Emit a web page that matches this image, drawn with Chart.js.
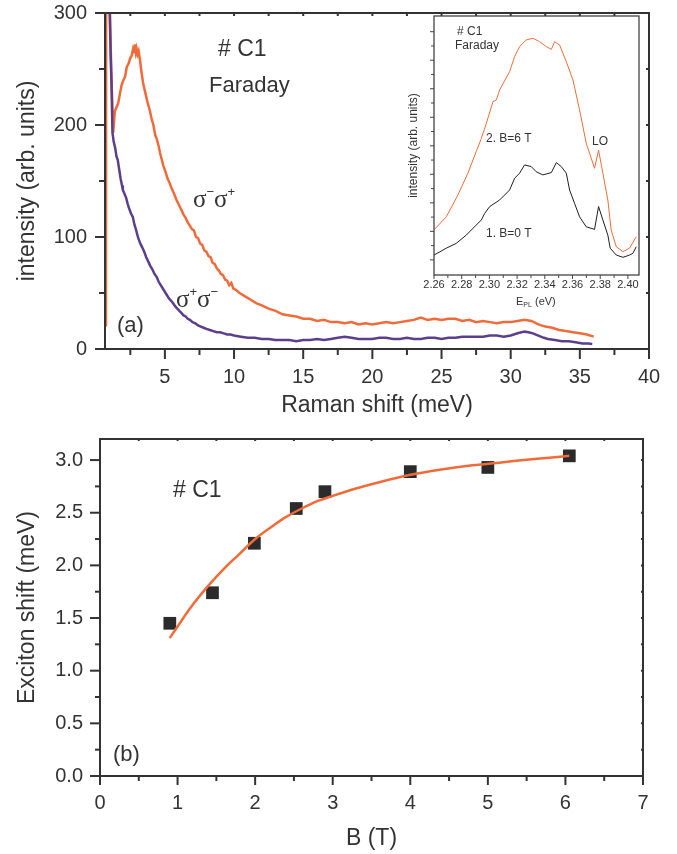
<!DOCTYPE html>
<html lang="en">
<head>
<meta charset="UTF-8">
<title>#C1 Faraday - Raman shift and exciton shift</title>
<script src="https://cdn.jsdelivr.net/npm/chart.js@4.4.1/dist/chart.umd.min.js"></script>
<style>
  body { margin: 0; background: #fff; }
  .fig { position: relative; width: 677px; height: 854px; overflow: hidden; font-family: 'Liberation Sans', Arial, sans-serif; color: #333; }
  .box { position: absolute; }
  .lbl { position: absolute; white-space: nowrap; line-height: 1; }
  .sig { font-family: 'Liberation Serif', 'Times New Roman', serif; font-size: 25px; }
  .sig span { font-family: 'Liberation Sans', Arial, sans-serif; font-size: 13px; vertical-align: 11px; }
  .ins { font-size: 12px; }
  .ins sub { font-size: 7px; vertical-align: -2px; }
</style>
</head>
<body>
<div class="fig">
  <div class="box" style="left:0;top:0"><canvas id="ramanChart" width="677" height="420"></canvas></div>
  <div class="box" style="left:380px;top:0"><canvas id="plChart" width="290" height="320"></canvas></div>
  <div class="box" style="left:0;top:420px"><canvas id="shiftChart" width="677" height="434"></canvas></div>

  <!-- panel (a) labels -->
  <div class="lbl" style="left:218px;top:37px;font-size:23px"># C1</div>
  <div class="lbl" style="left:209px;top:74px;font-size:22px">Faraday</div>
  <div class="lbl sig" style="left:193px;top:185px">σ<span>−</span>σ<span>+</span></div>
  <div class="lbl sig" style="left:176px;top:285px">σ<span>+</span>σ<span>−</span></div>
  <div class="lbl" style="left:117px;top:314px;font-size:22px">(a)</div>

  <!-- inset labels -->
  <div class="lbl ins" style="left:457px;top:25px"># C1</div>
  <div class="lbl ins" style="left:455px;top:39px">Faraday</div>
  <div class="lbl ins" style="left:486px;top:132px">2. B=6 T</div>
  <div class="lbl ins" style="left:592px;top:135px">LO</div>
  <div class="lbl ins" style="left:486px;top:227px">1. B=0 T</div>
  <div class="lbl ins" style="left:516px;top:296px;font-size:11px">E<sub>PL</sub> (eV)</div>

  <!-- panel (b) labels -->
  <div class="lbl" style="left:173px;top:478px;font-size:23px"># C1</div>
  <div class="lbl" style="left:113px;top:743px;font-size:22px">(b)</div>
</div>

<script>
  // ---- panel (a): Raman spectra ----
  const shiftOrange = [0.74, 0.76, 0.98, 1.12, 1.26, 1.38, 1.5, 1.62, 1.75, 1.88, 2.0, 2.12, 2.25, 2.38, 2.5,
    2.6, 2.7, 2.78, 2.83, 2.9, 2.95, 3.02, 3.1, 3.2, 3.3, 3.43, 3.6, 3.75, 3.91, 4.05, 4.15, 4.3, 4.4, 4.55, 4.65,
    4.8, 4.88, 5.05, 5.2, 5.35, 5.5, 5.65, 5.84, 6.0, 6.2, 6.35, 6.5, 6.65, 6.81, 6.95, 7.1, 7.25, 7.4, 7.55, 7.7,
    7.85, 8.0, 8.15, 8.3, 8.45, 8.6, 8.75, 8.9, 9.05, 9.2, 9.35, 9.5, 9.65, 9.8, 9.95, 10.1, 10.4, 10.8, 11.2, 11.6,
    12.0, 12.5, 13.0, 13.5, 14.0, 14.5, 15.0, 15.5, 16.0, 16.5, 17.0, 17.5, 18.0, 18.5, 19.0, 19.5, 20.0, 20.5,
    21.0, 21.5, 22.0, 22.5, 23.0, 23.5, 24.0, 24.5, 25.0, 25.5, 26.0, 26.5, 27.0, 27.5, 28.0, 28.5, 29.0, 29.5,
    30.0, 30.5, 31.0, 31.5, 32.0, 32.5, 33.0, 33.5, 34.0, 34.5, 35.0, 35.5, 36.0];
  const intOrange = [20, 480, 330, 250, 193, 212, 216, 219, 228, 236, 240, 243, 252, 255, 260,
    262, 268, 265, 272, 265, 268, 263, 266, 258, 248, 237, 228, 220, 213, 205, 201, 191, 188, 181, 175,
    168, 164, 158, 152, 148, 143, 139, 133, 129, 124, 120, 117, 113, 110, 107, 106, 100, 99, 94, 93,
    88, 87, 83, 82, 77, 76, 72, 70, 67, 66, 62, 61, 57, 59, 54, 53, 50, 47, 44, 41,
    39, 36, 34, 31, 30, 29, 27, 27, 25, 26, 24, 24, 23, 24, 22, 23, 22, 23,
    24, 23, 24, 25, 26, 28, 26, 27, 26, 27, 27, 25, 26, 24, 25, 24, 23, 24,
    24, 25, 26, 25, 22, 20, 19, 17, 16, 15, 14, 13, 11];

  const shiftPurple = [0.92, 1.01, 1.08, 1.14, 1.21, 1.3, 1.4, 1.5, 1.59, 1.7, 1.8, 1.9, 1.96, 2.1, 2.2,
    2.3, 2.4, 2.55, 2.68, 2.8, 2.9, 3.05, 3.19, 3.35, 3.5, 3.65, 3.8, 3.95, 4.1, 4.25, 4.42, 4.55, 4.7, 4.85, 5.0,
    5.15, 5.3, 5.45, 5.58, 5.75, 5.9, 6.05, 6.2, 6.35, 6.5, 6.65, 6.81, 7.0, 7.2, 7.4, 7.6, 7.8, 8.0, 8.25, 8.5,
    8.75, 9.0, 9.25, 9.5, 9.75, 10.0, 10.5, 11.0, 11.5, 12.0, 12.5, 13.0, 13.5, 14.0, 14.5, 15.0, 15.5, 16.0,
    16.5, 17.0, 17.5, 18.0, 18.5, 19.0, 19.5, 20.0, 20.5, 21.0, 21.5, 22.0, 22.5, 23.0, 23.5, 24.0, 24.5, 25.0,
    25.5, 26.0, 26.5, 27.0, 27.5, 28.0, 28.5, 29.0, 29.5, 30.0, 30.5, 31.0, 31.3, 31.6, 32.0, 32.4, 32.7, 33.2,
    33.7, 34.2, 34.7, 35.2, 35.6, 35.9];
  const intPurple = [420, 300, 262, 237, 193, 185, 180, 172, 169, 160, 152, 146, 142, 138, 135,
    130, 126, 121, 118, 111, 107, 100, 95, 91, 87, 82, 78, 74, 71, 67, 64, 60, 57, 54, 51,
    48, 45, 43, 41, 38, 36, 34, 32, 30, 29, 27, 26, 24, 23, 21, 20, 19, 18, 17, 16,
    15, 15, 14, 13, 13, 12, 11, 10, 10, 9, 9, 8, 8, 8, 7, 8, 8, 9,
    8, 9, 10, 11, 10, 9, 9, 9, 10, 10, 9, 9, 10, 9, 9, 10, 10, 9,
    10, 10, 11, 11, 11, 11, 12, 12, 11, 12, 14, 15.5, 15, 14, 12, 10, 9, 8,
    7, 7, 6, 5, 5, 4.5];

  const ramanTicks = [5, 10, 15, 20, 25, 30, 35, 40];
  const ramanMinor = [2.5, 7.5, 12.5, 17.5, 22.5, 27.5, 32.5, 37.5];
  const ramanTop = [2.5, 5, 7.5, 10, 12.5, 15, 17.5, 20, 22.5, 25, 27.5, 30, 32.5, 35, 37.5];
  const intTicks = [0, 100, 200, 300];
  const intMinor = [50, 150, 250];
  const intRight = [50, 100, 150, 200, 250];

  // ---- inset: PL spectra ----
  const ePL6 = [2.2600, 2.2689, 2.2773, 2.2845, 2.2905, 2.2942, 2.2978, 2.3026, 2.3050, 2.3074, 2.3146,
    2.3182, 2.3218, 2.3266, 2.3314, 2.3362, 2.3410, 2.3447, 2.3471, 2.3507, 2.3555, 2.3603, 2.3651, 2.3699,
    2.3759, 2.3788, 2.3819, 2.3855, 2.3879, 2.3916, 2.3964, 2.4012, 2.4060];
  const pl6 = [1.05, 1.51, 2.28, 3.04, 3.80, 4.26, 4.79, 5.55, 5.61, 5.96, 6.60,
    7.13, 7.48, 7.71, 7.77, 7.65, 7.48, 7.38, 7.65, 7.53, 6.95, 6.31, 5.26, 4.09,
    3.21, 3.85, 3.04, 2.10, 1.05, 0.46, 0.29, 0.41, 0.81];
  const ePL0 = [2.2600, 2.2689, 2.2761, 2.2833, 2.2905, 2.2942, 2.2966, 2.3002, 2.3074, 2.3146, 2.3182,
    2.3218, 2.3254, 2.3302, 2.3338, 2.3386, 2.3447, 2.3483, 2.3519, 2.3555, 2.3579, 2.3615, 2.3651, 2.3699,
    2.3759, 2.3788, 2.3819, 2.3855, 2.3872, 2.3916, 2.3964, 2.4012, 2.4036, 2.4060];
  const pl0 = [0.17, 0.41, 0.58, 0.87, 1.22, 1.40, 1.63, 1.87, 2.10, 2.45, 2.86,
    3.04, 3.33, 3.27, 3.09, 2.98, 3.06, 3.41, 3.27, 3.04, 2.45, 1.98, 1.51, 1.16,
    1.07, 1.87, 1.40, 0.87, 0.41, 0.17, 0.09, 0.17, 0.23, 0.46];
  const eTicks = [2.26, 2.28, 2.30, 2.32, 2.34, 2.36, 2.38, 2.40];
  const eMinor = [2.27, 2.29, 2.31, 2.33, 2.35, 2.37, 2.39];
  const plMajor = [0, 1, 2, 3, 4, 5, 6, 7, 8];
  const plMinor = [0.5, 1.5, 2.5, 3.5, 4.5, 5.5, 6.5, 7.5];

  // ---- panel (b): exciton shift vs field ----
  const fieldB = [0.9, 1.45, 1.99, 2.53, 2.9, 4.0, 5.0, 6.05];
  const excShift = [1.45, 1.74, 2.21, 2.54, 2.70, 2.89, 2.93, 3.04];
  const fitB = [0.9, 1.0, 1.2, 1.4, 1.6, 1.8, 2.0, 2.2, 2.4, 2.6, 2.8, 3.0, 3.3, 3.6, 4.0, 4.4, 4.8, 5.2, 5.6, 6.05];
  const fitShift = [1.31, 1.42, 1.63, 1.81, 1.97, 2.11, 2.25, 2.36, 2.46, 2.54, 2.61, 2.66, 2.73, 2.79, 2.86,
    2.91, 2.95, 2.98, 3.01, 3.04];
  const bTicks = [0, 1, 2, 3, 4, 5, 6, 7];
  const bMinor = [0.5, 1.5, 2.5, 3.5, 4.5, 5.5, 6.5];
  const sTicks = [0, 0.5, 1.0, 1.5, 2.0, 2.5, 3.0];
  const sMinor = [0.25, 0.75, 1.25, 1.75, 2.25, 2.75];
  const sRight = [0.25, 0.5, 0.75, 1.0, 1.25, 1.5, 1.75, 2.0, 2.25, 2.5, 2.75, 3.0];

  const ORANGE = '#ef6c3a';
  const PURPLE = '#5c3f8c';
  const INK = '#333';

  Chart.defaults.font.family = "'Liberation Sans', Arial, sans-serif";
  Chart.defaults.color = INK;

  const pts = (xs, ys) => xs.map((x, i) => ({ x: x, y: ys[i] }));
  const setTicks = vals => s => { s.ticks = vals.map(v => ({ value: v })); };
  // fixed axis box, and no label overflow padding pushing the plot area around
  const fixBox = (prop, size) => s => {
    s[prop] = size;
    s.paddingTop = 0; s.paddingBottom = 0; s.paddingLeft = 0; s.paddingRight = 0;
  };

  // frame + tick marks, drawn through the chart's own scales
  const frameTicks = {
    id: 'frameTicks',
    afterDatasetsDraw(chart, args, o) {
      const { ctx, chartArea: a, scales } = chart;
      ctx.save();
      ctx.strokeStyle = o.color;
      ctx.lineWidth = o.tickWidth;
      o.marks.forEach(m => {
        const s = scales[m.axis];
        m.values.forEach(v => {
          const p = s.getPixelForValue(v);
          ctx.beginPath();
          if (m.side === 'bottom') { ctx.moveTo(p, a.bottom); ctx.lineTo(p, a.bottom + m.len); }
          else if (m.side === 'top') { ctx.moveTo(p, a.top); ctx.lineTo(p, a.top - m.len); }
          else if (m.side === 'left') { ctx.moveTo(a.left, p); ctx.lineTo(a.left - m.len, p); }
          else { ctx.moveTo(a.right, p); ctx.lineTo(a.right + m.len, p); }
          ctx.stroke();
        });
      });
      ctx.lineWidth = o.frameWidth;
      ctx.strokeRect(a.left, a.top, a.right - a.left, a.bottom - a.top);
      ctx.restore();
    }
  };

  const noGrid = { display: false, drawTicks: false };

  // panel (a)
  new Chart(document.getElementById('ramanChart'), {
    type: 'line',
    data: {
      datasets: [
        { label: 'σ+σ−', data: pts(shiftPurple, intPurple), borderColor: PURPLE, borderWidth: 2.5, pointRadius: 0, tension: 0, order: 0 },
        { label: 'σ−σ+', data: pts(shiftOrange, intOrange), borderColor: ORANGE, borderWidth: 2.5, pointRadius: 0, tension: 0, order: 1 }
      ]
    },
    options: {
      responsive: false,
      animation: false,
      layout: { autoPadding: false, padding: { top: 13, right: 28, left: 0, bottom: 0 } },
      plugins: {
        legend: { display: false },
        tooltip: { enabled: false },
        frameTicks: {
          color: INK, tickWidth: 2, frameWidth: 2,
          marks: [
            { axis: 'x', side: 'bottom', values: ramanTicks, len: 10 },
            { axis: 'x', side: 'bottom', values: ramanMinor, len: 6 },
            { axis: 'x', side: 'top', values: ramanTop, len: -3 },
            { axis: 'y', side: 'left', values: intTicks, len: 10 },
            { axis: 'y', side: 'left', values: intMinor, len: 6 },
            { axis: 'y', side: 'right', values: intRight, len: -3 }
          ]
        }
      },
      scales: {
        x: {
          type: 'linear', min: 0.67, max: 40,
          grid: noGrid, border: { display: false },
          afterBuildTicks: setTicks(ramanTicks),
          afterFit: fixBox('height', 71),
          ticks: { font: { size: 20 }, padding: 16, color: INK, autoSkip: false, maxRotation: 0 },
          title: { display: true, text: 'Raman shift (meV)', font: { size: 23 }, color: INK, padding: { top: 0, bottom: 1 } }
        },
        y: {
          min: 0, max: 300,
          grid: noGrid, border: { display: false },
          afterBuildTicks: setTicks(intTicks),
          afterFit: fixBox('width', 105),
          ticks: { font: { size: 20 }, padding: 18, color: INK },
          title: { display: true, text: 'intensity (arb. units)', font: { size: 23 }, color: INK, padding: { top: 14, bottom: 0 } }
        }
      }
    },
    plugins: [frameTicks]
  });

  // inset
  new Chart(document.getElementById('plChart'), {
    type: 'line',
    data: {
      datasets: [
        { label: '2. B=6 T', data: pts(ePL6, pl6), borderColor: ORANGE, borderWidth: 1, pointRadius: 0, tension: 0 },
        { label: '1. B=0 T', data: pts(ePL0, pl0), borderColor: '#1e1e1e', borderWidth: 1, pointRadius: 0, tension: 0 }
      ]
    },
    options: {
      responsive: false,
      animation: false,
      layout: { autoPadding: false, padding: { top: 16, right: 31, left: 0, bottom: 0 } },
      plugins: {
        legend: { display: false },
        tooltip: { enabled: false },
        frameTicks: {
          color: '#444', tickWidth: 1, frameWidth: 1.3,
          marks: [
            { axis: 'x', side: 'bottom', values: eTicks, len: 4 },
            { axis: 'x', side: 'bottom', values: eMinor, len: 3 },
            { axis: 'y', side: 'left', values: plMajor, len: 4 },
            { axis: 'y', side: 'left', values: plMinor, len: 3 }
          ]
        }
      },
      scales: {
        x: {
          type: 'linear', min: 2.26, max: 2.408,
          grid: noGrid, border: { display: false },
          afterBuildTicks: setTicks(eTicks),
          afterFit: fixBox('height', 45),
          ticks: { font: { size: 11 }, padding: 3, color: INK, autoSkip: false, maxRotation: 0, minRotation: 0,
                   callback: v => v.toFixed(2) }
        },
        y: {
          min: -0.53, max: 8.55,
          grid: noGrid, border: { display: false },
          afterBuildTicks: setTicks(plMajor),
          afterFit: fixBox('width', 54),
          ticks: { display: false },
          title: { display: true, text: 'intensity (arb. units)', font: { size: 12 }, color: INK, padding: { top: 26, bottom: 0 } }
        }
      }
    },
    plugins: [frameTicks]
  });

  // panel (b)
  new Chart(document.getElementById('shiftChart'), {
    type: 'line',
    data: {
      datasets: [
        { label: 'fit', data: pts(fitB, fitShift), borderColor: ORANGE, borderWidth: 2.5, pointRadius: 0,
          cubicInterpolationMode: 'monotone', order: 0 },
        { label: 'exciton shift', data: pts(fieldB, excShift), showLine: false, pointStyle: 'rect', pointRadius: 9,
          backgroundColor: '#2b2b2b', borderColor: '#2b2b2b', borderWidth: 0, order: 1 }
      ]
    },
    options: {
      responsive: false,
      animation: false,
      layout: { autoPadding: false, padding: { top: 19, right: 34, left: 0, bottom: 0 } },
      plugins: {
        legend: { display: false },
        tooltip: { enabled: false },
        frameTicks: {
          color: INK, tickWidth: 2, frameWidth: 2,
          marks: [
            { axis: 'x', side: 'bottom', values: bTicks, len: 9 },
            { axis: 'x', side: 'bottom', values: bMinor, len: 5 },
            { axis: 'x', side: 'top', values: bMinor.concat(bTicks.slice(1, 7)), len: -2 },
            { axis: 'y', side: 'left', values: sTicks, len: 10 },
            { axis: 'y', side: 'left', values: sMinor, len: 5 },
            { axis: 'y', side: 'right', values: sRight, len: -2 }
          ]
        }
      },
      scales: {
        x: {
          type: 'linear', min: 0, max: 7,
          grid: noGrid, border: { display: false },
          afterBuildTicks: setTicks(bTicks),
          afterFit: fixBox('height', 78),
          ticks: { font: { size: 20 }, padding: 15, color: INK, autoSkip: false, maxRotation: 0 },
          title: { display: true, text: 'B (T)', font: { size: 23 }, color: INK, padding: { top: 0, bottom: 2 } }
        },
        y: {
          min: 0, max: 3.2,
          grid: noGrid, border: { display: false },
          afterBuildTicks: setTicks(sTicks),
          afterFit: fixBox('width', 100),
          ticks: { font: { size: 20 }, padding: 17, color: INK, callback: v => v.toFixed(1) },
          title: { display: true, text: 'Exciton shift (meV)', font: { size: 23 }, color: INK, padding: { top: 14, bottom: 0 } }
        }
      }
    },
    plugins: [frameTicks]
  });
</script>
</body>
</html>
